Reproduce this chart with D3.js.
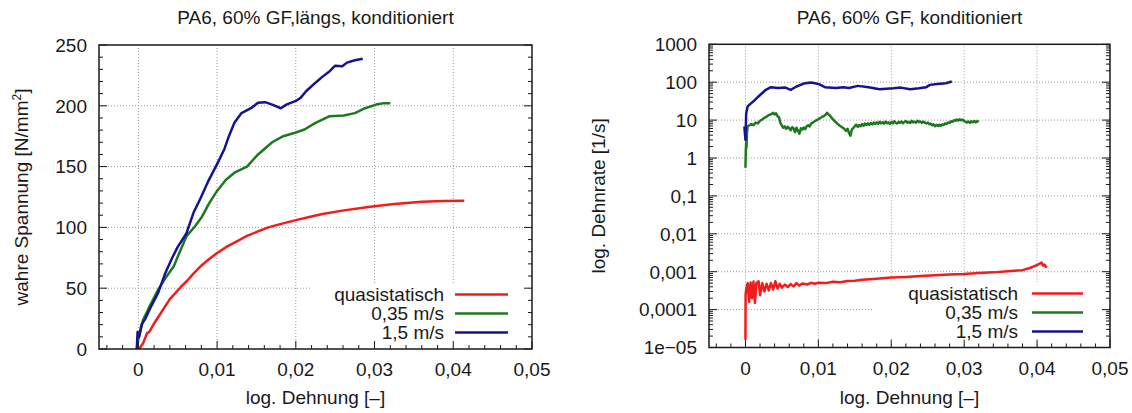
<!DOCTYPE html>
<html>
<head>
<meta charset="utf-8">
<script src="https://cdn.jsdelivr.net/npm/d3@7"></script>
<style>
  body { margin: 0; background: #fff; }
  text { font-family: "Liberation Sans", Arial, sans-serif; font-size: 19px; fill: #1a1a1a; }
</style>
</head>
<body>
<svg id="chart" width="1132" height="413"></svg>
<script>
// ---- tick values and labels ----
const strainTicks = [0, 0.01, 0.02, 0.03, 0.04, 0.05];
const strainTickLabels = ["0", "0,01", "0,02", "0,03", "0,04", "0,05"];
const stressTicks = [0, 50, 100, 150, 200, 250];
const stressTickLabels = ["0", "50", "100", "150", "200", "250"];
const rateTicks = [1e-5, 1e-4, 1e-3, 1e-2, 1e-1, 1, 10, 100, 1000];
const rateTickLabels = ["1e\u221205", "0,0001", "0,001", "0,01", "0,1", "1", "10", "100", "1000"];

// ---- series ----
const seriesNames = ["quasistatisch", "0,35 m/s", "1,5 m/s"];
const seriesColors = ["#f21c1c", "#1c7a1c", "#14148e"];

// true stress [N/mm²] over log. strain
const stressQuasi = [[0.0001,0],[0.0006,4.7],[0.0008,8],[0.0011,13],[0.0014,14],[0.002,21],[0.0027,28],[0.0034,35],[0.004,41],[0.0047,46],[0.0054,51],[0.0061,55.5],[0.007,62],[0.0079,68],[0.009,74],[0.01,79],[0.0112,84],[0.0125,88.5],[0.0138,93],[0.0152,96.7],[0.0165,100],[0.0179,102.5],[0.02,106],[0.0217,108.5],[0.0234,111],[0.0261,114],[0.0297,117.2],[0.0325,119.3],[0.036,121],[0.0388,121.7],[0.0414,121.9]];
const stress035 = [[-0.0002,0],[0.0,8],[0.0002,13],[0.0006,24],[0.0015,36],[0.0025,48.6],[0.0034,58],[0.0045,68],[0.0052,79],[0.0061,92.6],[0.0072,101],[0.0081,109],[0.009,120],[0.01,130],[0.0111,139],[0.0122,145],[0.0138,150],[0.0152,160],[0.017,170],[0.0184,175],[0.02,178],[0.0211,180.5],[0.0225,186],[0.0243,191.5],[0.0261,192],[0.0275,194],[0.0288,198],[0.0302,201],[0.0312,202.2],[0.032,202]];
const stress15 = [[-0.0002,0],[-0.0001,14],[0.0001,10],[0.0004,20],[0.0009,25],[0.0015,33.5],[0.0025,46],[0.0034,62],[0.0043,75],[0.005,84],[0.0061,95],[0.007,112],[0.0079,124],[0.0088,137],[0.01,152],[0.0109,164],[0.0115,175],[0.0122,186],[0.0131,194],[0.0143,198],[0.0152,202.5],[0.0161,203],[0.017,201],[0.0181,198],[0.0188,201],[0.02,204],[0.0206,206.5],[0.0213,212],[0.0225,219],[0.0234,224],[0.0243,228.5],[0.025,233],[0.0259,232.5],[0.0265,235.5],[0.0275,237.4],[0.0285,238.7]];

// strain rate [1/s] over log. strain
const rateQuasi = [[0,1.6e-5],[0.00002,2.5e-4],[0.0001,3.5e-4],[0.0003,5e-4],[0.0005,1.6e-4],[0.0007,5.2e-4],[0.0009,2.0e-4],[0.0011,5.5e-4],[0.0013,1.5e-4],[0.0015,5.0e-4],[0.0018,5.6e-4],[0.002,2.4e-4],[0.0023,5.0e-4],[0.0026,3.0e-4],[0.0029,4.8e-4],[0.0032,3.2e-4],[0.0035,5.0e-4],[0.0038,3.4e-4],[0.0041,5.6e-4],[0.0044,3.6e-4],[0.0047,4.8e-4],[0.005,3.8e-4],[0.0054,4.6e-4],[0.0058,3.9e-4],[0.0062,4.7e-4],[0.0066,4.1e-4],[0.007,5.0e-4],[0.0074,4.3e-4],[0.0078,4.9e-4],[0.0085,4.6e-4],[0.009,5.1e-4],[0.0095,4.8e-4],[0.01,5.1e-4],[0.011,5.0e-4],[0.012,5.4e-4],[0.013,5.3e-4],[0.014,5.7e-4],[0.015,5.8e-4],[0.016,6.1e-4],[0.018,6.5e-4],[0.02,7.0e-4],[0.022,7.3e-4],[0.024,7.7e-4],[0.026,8.0e-4],[0.028,8.4e-4],[0.03,8.7e-4],[0.032,9.2e-4],[0.034,9.6e-4],[0.036,1.03e-3],[0.038,1.1e-3],[0.039,1.25e-3],[0.0398,1.45e-3],[0.0403,1.6e-3],[0.0406,1.75e-3],[0.0408,1.45e-3],[0.041,1.55e-3],[0.0412,1.35e-3],[0.0413,1.45e-3]];
const rate035 = [[0,0.55],[0.00005,1.6],[0.0001,2.6],[0.00015,1.9],[0.0002,4.5],[0.0003,6.8],[0.0005,7.2],[0.0008,7.8],[0.0011,7.4],[0.0014,8.6],[0.0017,8.2],[0.002,9.6],[0.0023,10.4],[0.0026,11.5],[0.0029,12.3],[0.0032,13.6],[0.0035,14.2],[0.0038,15.5],[0.004,14.1],[0.0042,15.2],[0.0044,12.6],[0.0046,11.8],[0.0048,8.4],[0.005,7.1],[0.0052,6.3],[0.0054,6.8],[0.0056,5.9],[0.0058,6.6],[0.006,6.1],[0.0062,5.4],[0.0064,6.5],[0.0066,6.0],[0.0068,4.8],[0.007,6.3],[0.0072,5.2],[0.0074,4.4],[0.0076,6.1],[0.0078,5.6],[0.008,6.4],[0.0082,5.8],[0.0084,6.9],[0.0086,7.3],[0.0088,6.8],[0.009,8.1],[0.0093,8.8],[0.0096,9.6],[0.0099,10.3],[0.0102,11.2],[0.0105,12.1],[0.0108,13.0],[0.011,13.8],[0.0112,15.6],[0.0114,14.2],[0.0116,13.1],[0.0118,11.6],[0.012,10.4],[0.0123,9.2],[0.0126,8.1],[0.0129,7.2],[0.0132,6.6],[0.0135,6.0],[0.0138,5.2],[0.014,5.9],[0.0142,4.6],[0.0144,3.9],[0.0146,5.6],[0.0148,6.2],
  [0.015,6.9],[0.0152,7.6],[0.0154,6.6],[0.0156,7.4],[0.0158,6.9],[0.016,7.8],[0.0162,7.1],[0.0164,8.1],[0.0166,7.4],[0.0168,8.2],[0.017,7.5],[0.0172,8.4],[0.0174,7.7],[0.0176,8.6],[0.0178,7.9],[0.018,8.7],[0.0182,8.0],[0.0184,9.0],[0.0186,8.2],[0.0188,8.8],[0.019,8.1],[0.0192,9.1],[0.0194,8.3],[0.0196,8.7],[0.0198,7.9],[0.02,8.9],[0.0202,8.2],[0.0204,9.3],[0.0206,8.5],[0.0208,8.1],[0.021,9.0],[0.0212,8.4],[0.0214,9.2],[0.0216,8.3],[0.0218,8.9],[0.022,9.4],[0.0222,8.5],[0.0224,9.0],[0.0226,8.4],[0.0228,9.5],[0.023,8.7],[0.0232,9.1],[0.0234,8.6],[0.0236,9.6],[0.0238,8.8],[0.024,9.2],[0.0242,8.5],[0.0244,9.1],[0.0246,8.6],[0.0248,8.2],[0.025,8.6],[0.0252,7.8],[0.0254,8.1],[0.0256,7.3],[0.0258,7.7],[0.026,6.9],[0.0262,7.5],[0.0264,7.0],[0.0266,7.6],[0.0268,7.0],[0.027,7.7],[0.0272,7.4],[0.0274,8.2],[0.0276,7.9],[0.0278,8.7],[0.028,8.5],[0.0282,9.3],[0.0284,9.0],[0.0286,9.9],[0.0288,9.6],[0.029,10.4],[0.0292,9.7],[0.0294,10.5],[0.0296,9.9],[0.0298,10.3],[0.03,9.4],[0.0302,9.1],[0.0304,8.6],[0.0306,9.2],[0.0308,8.5],[0.031,9.3],[0.0312,8.8],[0.0314,9.5],[0.0316,8.7],[0.0318,9.4],[0.032,9.0]];
const rate15 = [[-0.00015,6.8],[0,3.0],[0.0001,15],[0.0003,23],[0.0008,28],[0.0013,34],[0.002,46],[0.0028,63],[0.0035,74],[0.0045,70],[0.0055,72],[0.0062,63],[0.007,77],[0.008,92],[0.009,98],[0.01,90],[0.0109,74],[0.0124,70],[0.0134,74],[0.0142,70],[0.0154,80],[0.0169,74],[0.0184,65],[0.0203,69],[0.0213,72],[0.0226,65],[0.0238,69],[0.0248,74],[0.0253,85],[0.0263,90],[0.0275,94],[0.0283,104]];

const svg = d3.select("#chart");

function drawPanel(cfg) {
  const { x0, x1, y0, y1, yScale, id } = cfg;
  const x = d3.scaleLinear().domain([-0.005, 0.05]).range([x0, x1]);
  const y = yScale.range([y1, y0]);
  const g = svg.append("g");

  // title
  g.append("text").attr("x", (x0 + x1) / 2).attr("y", 24)
    .attr("text-anchor", "middle").text(cfg.title);

  // dotted grid
  const grid = g.append("g").attr("stroke", "#9a9a9a").attr("stroke-width", 1)
    .attr("stroke-dasharray", "1,2");
  strainTicks.filter(v => v < 0.05).forEach(v => {
    grid.append("line").attr("x1", x(v)).attr("x2", x(v)).attr("y1", y0).attr("y2", y1);
  });
  cfg.yTicks.slice(1, -1).forEach(v => {
    grid.append("line").attr("x1", x0).attr("x2", x1).attr("y1", y(v)).attr("y2", y(v));
  });

  // curves
  g.append("clipPath").attr("id", "clip" + id).append("rect")
    .attr("x", x0).attr("y", y0).attr("width", x1 - x0).attr("height", y1 - y0);
  const line = d3.line().x(d => x(d[0])).y(d => y(d[1]));
  cfg.series.forEach((s, i) => {
    g.append("path").attr("d", line(s)).attr("fill", "none")
      .attr("stroke", seriesColors[i]).attr("stroke-width", 2.5)
      .attr("stroke-linejoin", "round").attr("clip-path", `url(#clip${id})`);
  });

  // legend with opaque background
  const lg = cfg.legend;
  g.append("rect").attr("x", lg.boxX0).attr("y", lg.boxY0)
    .attr("width", lg.boxX1 - lg.boxX0).attr("height", lg.boxY1 - lg.boxY0).attr("fill", "#fff");
  seriesNames.forEach((name, i) => {
    const ly = lg.y + i * lg.dy;
    g.append("text").attr("x", lg.textX).attr("y", ly).attr("dy", "0.35em")
      .attr("text-anchor", "end").text(name);
    g.append("line").attr("x1", lg.lineX0).attr("x2", lg.lineX1).attr("y1", ly).attr("y2", ly)
      .attr("stroke", seriesColors[i]).attr("stroke-width", 2.5);
  });

  // ticks (inward), y ticks mirrored on the right
  const tk = g.append("g").attr("stroke", "#1a1a1a").attr("stroke-width", 1);
  const xMinor = d3.range(-0.004, 0.0501, 0.002).filter(v => Math.abs(Math.round(v * 100) - v * 100) > 1e-6);
  xMinor.forEach(v => tk.append("line").attr("x1", x(v)).attr("x2", x(v)).attr("y1", y1).attr("y2", y1 - 4));
  strainTicks.forEach(v => tk.append("line").attr("x1", x(v)).attr("x2", x(v)).attr("y1", y1).attr("y2", y1 - 8));
  cfg.yMinor.forEach(v => {
    tk.append("line").attr("x1", x0).attr("x2", x0 + 4).attr("y1", y(v)).attr("y2", y(v));
    tk.append("line").attr("x1", x1).attr("x2", x1 - 4).attr("y1", y(v)).attr("y2", y(v));
  });
  cfg.yTicks.forEach(v => {
    tk.append("line").attr("x1", x0).attr("x2", x0 + 8).attr("y1", y(v)).attr("y2", y(v));
    tk.append("line").attr("x1", x1).attr("x2", x1 - 8).attr("y1", y(v)).attr("y2", y(v));
  });

  // frame
  g.append("rect").attr("x", x0).attr("y", y0).attr("width", x1 - x0).attr("height", y1 - y0)
    .attr("fill", "none").attr("stroke", "#1a1a1a").attr("stroke-width", 1.5);

  // tick labels
  strainTicks.forEach((v, i) => {
    g.append("text").attr("x", x(v)).attr("y", y1 + 27).attr("text-anchor", "middle")
      .text(strainTickLabels[i]);
  });
  cfg.yTicks.forEach((v, i) => {
    g.append("text").attr("x", x0 - 12).attr("y", y(v)).attr("dy", "0.36em")
      .attr("text-anchor", "end").text(cfg.yTickLabels[i]);
  });

  // axis titles
  g.append("text").attr("x", (x0 + x1) / 2).attr("y", 404).attr("text-anchor", "middle")
    .text("log. Dehnung [\u2013]");
  const yl = g.append("text")
    .attr("transform", `translate(${cfg.yLabelX},${(y0 + y1) / 2}) rotate(-90)`)
    .attr("text-anchor", "middle").attr("dy", "0.35em");
  cfg.yLabel(yl);
}

// left panel: true stress
drawPanel({
  id: "L", x0: 99, x1: 532, y0: 45, y1: 349,
  yScale: d3.scaleLinear().domain([0, 250]),
  title: "PA6, 60% GF,l\u00e4ngs, konditioniert",
  yTicks: stressTicks, yTickLabels: stressTickLabels,
  yMinor: d3.range(10, 250, 10).filter(v => v % 50 !== 0),
  series: [stressQuasi, stress035, stress15],
  yLabelX: 21,
  yLabel: t => {
    t.append("tspan").text("wahre Spannung [N/mm");
    t.append("tspan").attr("baseline-shift", "super").attr("font-size", "12px").text("2");
    t.append("tspan").text("]");
  },
  legend: { boxX0: 311, boxX1: 526, boxY0: 283, boxY1: 344, y: 294.5, dy: 19,
            textX: 444, lineX0: 455, lineX1: 508 }
});

// right panel: strain rate, log scale
const rateMinor = [];
for (let e = -5; e < 3; e++) for (let m = 2; m <= 9; m++) rateMinor.push(m * Math.pow(10, e));
drawPanel({
  id: "R", x0: 709, x1: 1110, y0: 44.3, y1: 347.5,
  yScale: d3.scaleLog().domain([1e-5, 1000]),
  title: "PA6, 60% GF, konditioniert",
  yTicks: rateTicks, yTickLabels: rateTickLabels,
  yMinor: rateMinor,
  series: [rateQuasi, rate035, rate15],
  yLabelX: 598,
  yLabel: t => t.text("log. Dehnrate [1/s]"),
  legend: { boxX0: 872, boxX1: 1100, boxY0: 282, boxY1: 343, y: 293.5, dy: 19,
            textX: 1018, lineX0: 1032, lineX1: 1083 }
});
</script>
</body>
</html>
